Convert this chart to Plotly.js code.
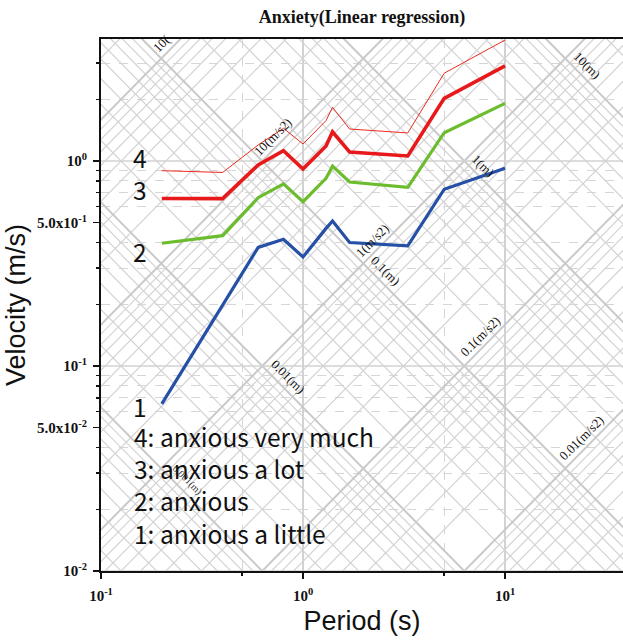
<!DOCTYPE html>
<html>
<head>
<meta charset="utf-8">
<script src="https://cdn.plot.ly/plotly-3.0.1.min.js"></script>
<style>
  html, body { margin: 0; padding: 0; background: #fff; }
  #chart { width: 623px; height: 641px; }
</style>
</head>
<body>
<div id="chart"></div>
<script>
// ---- Data ----
const periods = [0.2, 0.4, 0.6, 0.8, 1.0, 1.3, 1.4, 1.7, 3.3, 5, 10];
const veryMuch = [0.897, 0.879, 1.197, 1.444, 1.21, 1.573, 1.828, 1.432, 1.370, 2.68, 3.89];
const aLot     = [0.656, 0.655, 0.956, 1.123, 0.914, 1.184, 1.389, 1.106, 1.058, 2.02, 2.91];
const anxious  = [0.397, 0.432, 0.662, 0.773, 0.633, 0.823, 0.945, 0.790, 0.744, 1.374, 1.911];
const aLittle  = [0.0653, 0.196, 0.379, 0.415, 0.340, 0.469, 0.510, 0.400, 0.385, 0.728, 0.921];

const seriesNumbers = ['4', '3', '2', '1'];
const legendLines = ['4: anxious very much', '3: anxious a lot', '2: anxious', '1: anxious a little'];

// tripartite grid families
const dispDecades = [1e-4, 1e-3, 1e-2, 1e-1, 1, 10];        // displacement (m)
const accDecades  = [1e-4, 1e-3, 1e-2, 1e-1, 1, 10, 100];   // acceleration (m/s2)
const multipliers = [1, 2, 3, 4, 5, 6, 7, 8, 9];
const velDecades = [0.01, 0.1, 1];

const dispLabelVals = [10, 1, 0.1, 0.01, 0.001];
const dispLabelText = ['10(m)', '1(m)', '0.1(m)', '0.01(m)', '0.001(m)'];
const dispLabelT    = [25.5, 7.78, 2.55, 0.84, 0.267];
const accLabelVals  = [100, 10, 1, 0.1, 0.01];
const accLabelText  = ['10(', '10(m/s2)', '1(m/s2)', '0.1(m/s2)', '0.01(m/s2)'];
const accLabelT     = [0.2, 0.71, 2.2, 7.5, 24];

const yTickVals = [0.01, 0.05, 0.1, 0.5, 1];
const yTickText = ['10<sup>-2</sup>', '5.0x10<sup>-2</sup>', '10<sup>-1</sup>', '5.0x10<sup>-1</sup>', '10<sup>0</sup>'];
const xTickVals = [0.1, 1, 10];
const xTickText = ['10<sup>-1</sup>', '10<sup>0</sup>', '10<sup>1</sup>'];

// ---- Build grid traces ----
const TWO_PI = 2 * Math.PI;
const Tlo = 0.05, Thi = 60;
function family(decades, kind, major) {
  const xs = [], ys = [];
  decades.forEach(d => {
    multipliers.forEach(m => {
      if ((m === 1) !== major) return;
      const v = d * m;
      const f = kind === 'disp' ? (T => TWO_PI * v / T) : (T => v * T / TWO_PI);
      xs.push(Tlo, Thi, null);
      ys.push(f(Tlo), f(Thi), null);
    });
  });
  return {
    x: xs, y: ys, mode: 'lines', hoverinfo: 'skip', showlegend: false,
    line: { color: major ? '#c9c9c9' : '#d3d3d3', width: major ? 2 : 1.2 }
  };
}
const hx = [], hy = [];
velDecades.forEach(v => { hx.push(Tlo, Thi, null); hy.push(v, v, null); });

const traces = [
  family(dispDecades, 'disp', false),
  family(accDecades, 'acc', false),
  family(dispDecades, 'disp', true),
  family(accDecades, 'acc', true),
  { x: hx, y: hy, mode: 'lines', hoverinfo: 'skip', showlegend: false,
    line: { color: '#d2d2d2', width: 1.5 } },
  { x: periods, y: aLittle, mode: 'lines', name: '1', showlegend: false,
    line: { color: '#2550a6', width: 3.2 } },
  { x: periods, y: anxious, mode: 'lines', name: '2', showlegend: false,
    line: { color: '#6cbd2d', width: 3.2 } },
  { x: periods, y: aLot, mode: 'lines', name: '3', showlegend: false,
    line: { color: '#e8191b', width: 3.6 } },
  { x: periods, y: veryMuch, mode: 'lines', name: '4', showlegend: false,
    line: { color: '#ee2a1e', width: 1 } }
];

// ---- Annotations ----
const annotations = [];
const labelFont = { family: 'Liberation Serif, Times New Roman, serif', size: 13, color: '#111' };
dispLabelVals.forEach((d, i) => {
  const T = dispLabelT[i];
  annotations.push({
    x: Math.log10(T), y: Math.log10(TWO_PI * d / T), xref: 'x', yref: 'y',
    text: dispLabelText[i], showarrow: false, textangle: 45, yshift: 15,
    font: Object.assign({}, labelFont, d < 0.005 ? { size: 10, color: '#333' } : {})
  });
});
accLabelVals.forEach((a, i) => {
  const T = accLabelT[i];
  annotations.push({
    x: Math.log10(T), y: Math.log10(a * T / TWO_PI), xref: 'x', yref: 'y',
    text: accLabelText[i], showarrow: false, textangle: -45, yshift: 14,
    font: labelFont
  });
});

const bigFont = { family: 'Noto Sans CJK JP, Noto Sans, sans-serif', size: 24.5, color: '#111' };
const numY = [0.778, 0.718, 0.600, 0.310];   // paper y of the series numbers
seriesNumbers.forEach((s, i) => {
  annotations.push({ x: 0.075, y: numY[i], xref: 'paper', yref: 'paper',
    text: s, showarrow: false, xanchor: 'center', yanchor: 'middle', font: bigFont });
});
const legY = [0.252, 0.192, 0.132, 0.071];
legendLines.forEach((s, i) => {
  annotations.push({ x: 0.060, y: legY[i], xref: 'paper', yref: 'paper',
    text: s, showarrow: false, xanchor: 'left', yanchor: 'middle', font: bigFont });
});

// ---- Layout ----
const tickFont = { family: 'Liberation Serif, Times New Roman, serif', size: 15, color: '#111', weight: 'bold' };
const layout = {
  width: 623, height: 641,
  margin: { l: 101, r: 0, t: 39, b: 70, pad: 0 },
  paper_bgcolor: '#fff', plot_bgcolor: '#fff',
  showlegend: false,
  title: {
    text: 'Anxiety(Linear regression)',
    font: { family: 'Liberation Serif, Times New Roman, serif', size: 18, color: '#111', weight: 'bold' },
    x: 0.5, xref: 'paper', xanchor: 'center',
    y: 1 - 17 / 641, yref: 'container', yanchor: 'middle'
  },
  xaxis: {
    type: 'log', range: [-1, 1.584], autorange: false,
    tickmode: 'array', tickvals: xTickVals, ticktext: xTickText,
    ticks: 'outside', ticklen: 6, tickwidth: 1.5, tickcolor: '#111',
    ticklabelstandoff: 4,
    showline: true, linecolor: '#111', linewidth: 2, mirror: true,
    showgrid: true, gridcolor: '#d2d2d2', gridwidth: 1.5,
    zeroline: false, tickfont: tickFont,
    minor: { tickmode: 'array', tickvals: [0.5, 5, 50], ticks: 'outside', ticklen: 3,
             tickcolor: '#111', showgrid: true, gridcolor: '#d6d6d6', griddash: 'dash', gridwidth: 1 },
    title: { text: 'Period (s)', font: { family: 'Liberation Sans, Arial, sans-serif', size: 27, color: '#111' }, standoff: 8 }
  },
  yaxis: {
    type: 'log', range: [-2, 0.595], autorange: false,
    tickmode: 'array', tickvals: yTickVals, ticktext: yTickText,
    ticks: 'outside', ticklen: 6, tickwidth: 1.5, tickcolor: '#111',
    ticklabelstandoff: 3,
    showline: true, linecolor: '#111', linewidth: 2, mirror: false,
    showgrid: false, zeroline: false, tickfont: tickFont,
    minor: { tickmode: 'array',
             tickvals: [0.02,0.03,0.04,0.06,0.07,0.08,0.09,0.2,0.3,0.4,0.6,0.7,0.8,0.9,2,3],
             ticks: 'outside', ticklen: 3, tickcolor: '#111',
             showgrid: true, gridcolor: '#d6d6d6', griddash: 'dash', gridwidth: 1 },
    title: { text: 'Velocity (m/s)', font: { family: 'Liberation Sans, Arial, sans-serif', size: 27, color: '#111' }, standoff: 4 }
  },
  annotations: annotations
};

Plotly.newPlot('chart', traces, layout, { staticPlot: true, displayModeBar: false });
</script>
</body>
</html>
